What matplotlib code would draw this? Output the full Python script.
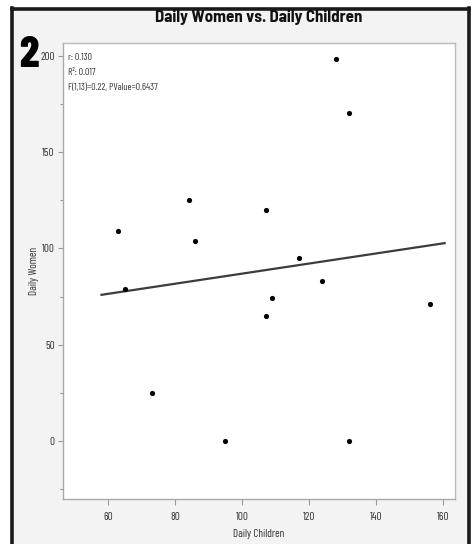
import numpy as np
import matplotlib
matplotlib.use('Agg')
import matplotlib.pyplot as plt
from matplotlib.patches import Rectangle
from matplotlib.ticker import MultipleLocator

# data
children = [63, 65, 73, 84, 86, 95, 107, 107, 109, 117, 124, 128, 132, 132, 156]
women = [109, 79, 25, 125, 104, 0, 120, 65, 74, 95, 83, 198, 170, 0, 71]

# fitted line as drawn (end points)
fit_x = [58, 160.5]
fit_y = [75.9, 102.7]

stats_lines = ["r: 0.130", "R\u00b2: 0.017", "F(1,13)=0.22, PValue=0.6437"]
x_ticks = [60, 80, 100, 120, 140, 160]
y_ticks = [0, 50, 100, 150, 200]

# narrow faces if there are any, else plain sans
narrow = ['Barlow Condensed', 'Archivo Narrow', 'Liberation Sans', 'DejaVu Sans']
narrow_bold = ['Barlow Semi Condensed', 'Barlow Condensed', 'Liberation Sans', 'DejaVu Sans']
plt.rcParams['font.family'] = narrow

fig = plt.figure(figsize=(4.71, 5.44), dpi=100)
fig.patch.set_facecolor('white')

# grey panel with black frame on left / top / right
fig.patches.append(Rectangle((12 / 471, 0), (468 - 12) / 471, 1 - 9 / 544,
                             transform=fig.transFigure, facecolor='#f3f3f3',
                             edgecolor='none', zorder=-5))
for xs, ys in [([11.5, 11.5], [544, 8]), ([11.5, 468.5], [8.5, 8.5]),
               ([468.5, 468.5], [544, 8])]:
    fig.add_artist(plt.Line2D([v / 471 for v in xs], [1 - v / 544 for v in ys],
                              transform=fig.transFigure, color='#1a1a1a',
                              lw=2.6, zorder=-4))

ax = fig.add_axes([63 / 471, 1 - 499 / 544, (455 - 63) / 471, (499 - 43) / 544])
ax.set_zorder(2)
ax.set_facecolor('white')

ax.plot(fit_x, fit_y, color='#3c3c3c', lw=1.6, zorder=2)
ax.scatter(children, women, s=14, color='black', zorder=3, linewidths=0)

ax.set_xlim(46.5, 163.6)
ax.set_ylim(-30, 206.5)
ax.set_xticks(x_ticks)
ax.set_yticks(y_ticks)
ax.yaxis.set_minor_locator(MultipleLocator(25))

for s in ax.spines.values():
    s.set_color('#bbbbbb')
    s.set_linewidth(1.0)
ax.spines['left'].set_color('#aaaaaa')
ax.spines['bottom'].set_color('#aaaaaa')

ax.tick_params(axis='both', which='major', width=0.8, color='#999999',
               labelsize=8, labelcolor='#333333')
ax.tick_params(axis='x', which='major', length=4.5, pad=5)
ax.tick_params(axis='y', which='major', length=3.5, pad=2.5)
ax.tick_params(axis='y', which='minor', length=2, width=0.8, color='#999999')

ax.set_xlabel('Daily Children', fontsize=8, color='#333333', labelpad=5)
ax.set_ylabel('Daily Women', fontsize=8, color='#333333', labelpad=1)
ax.set_title('Daily Women vs. Daily Children', fontsize=12.2, fontweight='bold',
             family=narrow_bold, color='#111111', pad=15)

for i, line in enumerate(stats_lines):
    ax.text(0.012, 0.978 - i * 0.033, line, transform=ax.transAxes,
            fontsize=7, color='#333333', va='top', ha='left')

fig.text(19 / 471, 1 - 67 / 544, '2', fontsize=31, fontweight='heavy',
         family=['Barlow Condensed', 'Liberation Sans', 'DejaVu Sans'],
         color='black', ha='left', va='baseline', zorder=5)

fig.savefig('out.png', dpi=100)
plt.close(fig)
